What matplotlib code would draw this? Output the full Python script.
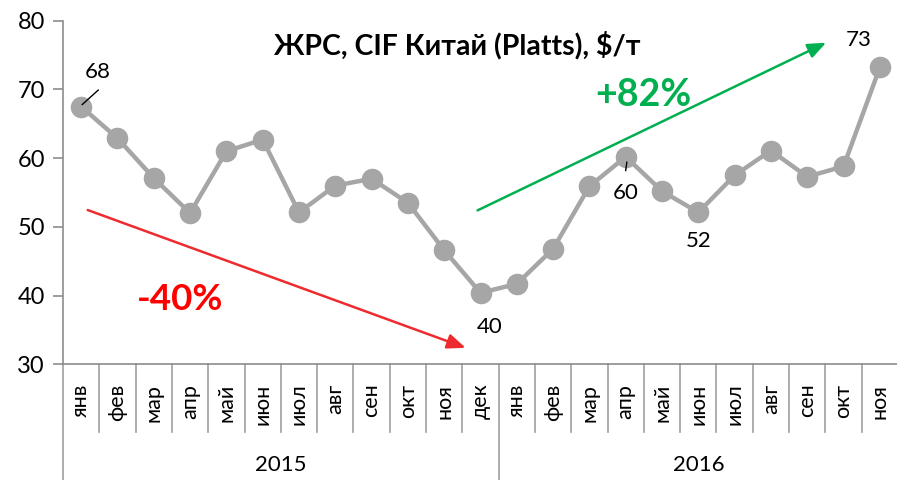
import matplotlib
matplotlib.use("Agg")
import matplotlib.pyplot as plt
from matplotlib.transforms import blended_transform_factory

plt.rcParams['font.family'] = ['Lato', 'DejaVu Sans']

months_2015 = ["янв", "фев", "мар", "апр", "май", "июн", "июл", "авг", "сен", "окт", "ноя", "дек"]
months_2016 = ["янв", "фев", "мар", "апр", "май", "июн", "июл", "авг", "сен", "окт", "ноя"]
years = ["2015", "2016"]
prices_2015 = [67.5, 62.9, 57.1, 52.0, 61.0, 62.7, 52.1, 56.0, 57.0, 53.5, 46.6, 40.4]
prices_2016 = [41.7, 46.8, 55.9, 60.2, 55.2, 52.1, 57.5, 61.1, 57.3, 58.8, 73.2]
title = "ЖРС, CIF Китай (Platts), $/т"

labels = months_2015 + months_2016
values = prices_2015 + prices_2016
n = len(labels)
xs = [i + 0.5 for i in range(n)]

W, H = 897, 480
fig = plt.figure(figsize=(W / 100, H / 100), dpi=100)
ax = fig.add_axes([63 / W, 1 - 364.3 / H, (898 - 63) / W, (364.3 - 20.7) / H])
ax.set_xlim(0, n)
ax.set_ylim(30, 80)

grey = "#A6A6A6"
ax.plot(xs, values, color=grey, lw=3.2, marker="o", ms=14.5, mfc=grey, mec=grey, zorder=3, clip_on=False)

for s in ["top", "right"]:
    ax.spines[s].set_visible(False)
ax.spines["left"].set_color("#8C8C8C")
ax.spines["bottom"].set_color("#8C8C8C")
ax.spines["left"].set_linewidth(1.2)
ax.spines["bottom"].set_linewidth(1.2)

ax.set_yticks(range(30, 81, 10))
ax.tick_params(axis="y", length=7, width=1.2, color="#8C8C8C", labelsize=17, pad=6)
ax.set_xticks(xs)
ax.set_xticklabels(labels, rotation=90, fontsize=15.5, va="top")
ax.tick_params(axis="x", length=0, pad=14)

trans = blended_transform_factory(ax.transData, ax.transAxes)
ax_h_px = 364.3 - 20.7
sep_short = -(432 - 364.3) / ax_h_px
sep_long = -(480 - 364.3) / ax_h_px
for b in range(0, n + 1):
    low = sep_long if b in (0, 12, n) else sep_short
    ax.plot([b, b], [0, low], transform=trans, color="#A0A0A0", lw=1.2, clip_on=False)

year_y = -(465 - 364.3) / ax_h_px
ax.text(6, year_y, years[0], transform=trans, ha="center", va="center", fontsize=16)
ax.text(12 + len(months_2016) / 2, year_y, years[1], transform=trans, ha="center", va="center", fontsize=16)

# data labels
ax.text(0.95, 72.5, "68", ha="center", va="center", fontsize=16)
ax.plot([0.53, 0.97], [67.8, 69.9], color="black", lw=1, zorder=4)
ax.text(15.5, 54.9, "60", ha="center", va="center", fontsize=16)
ax.plot([15.53, 15.50], [59.4, 58.2], color="black", lw=1, zorder=4)
ax.text(17.5, 48.0, "52", ha="center", va="center", fontsize=16)
ax.text(11.74, 35.4, "40", ha="center", va="center", fontsize=16)
ax.text(21.92, 77.2, "73", ha="center", va="center", fontsize=16)

ax.text(10.87, 76.5, title, ha="center", va="center", fontsize=20.5, fontweight="bold")

red = "#EE2B2F"
green = "#00B050"
ax.annotate("", xy=(11.09, 32.4), xytext=(0.68, 52.45),
            arrowprops=dict(arrowstyle="-|>,head_length=1.1,head_width=0.45", color=red, lw=1.8, shrinkA=0, shrinkB=0))
ax.annotate("", xy=(21.02, 76.8), xytext=(11.42, 52.4),
            arrowprops=dict(arrowstyle="-|>,head_length=1.1,head_width=0.45", color=green, lw=1.8, shrinkA=0, shrinkB=0))
ax.text(3.22, 39.4, "-40%", ha="center", va="center", fontsize=26.5, fontweight="bold", color="#FF0000")
ax.text(15.98, 69.2, "+82%", ha="center", va="center", fontsize=27, fontweight="bold", color=green)

fig.savefig("out.png", dpi=100)
